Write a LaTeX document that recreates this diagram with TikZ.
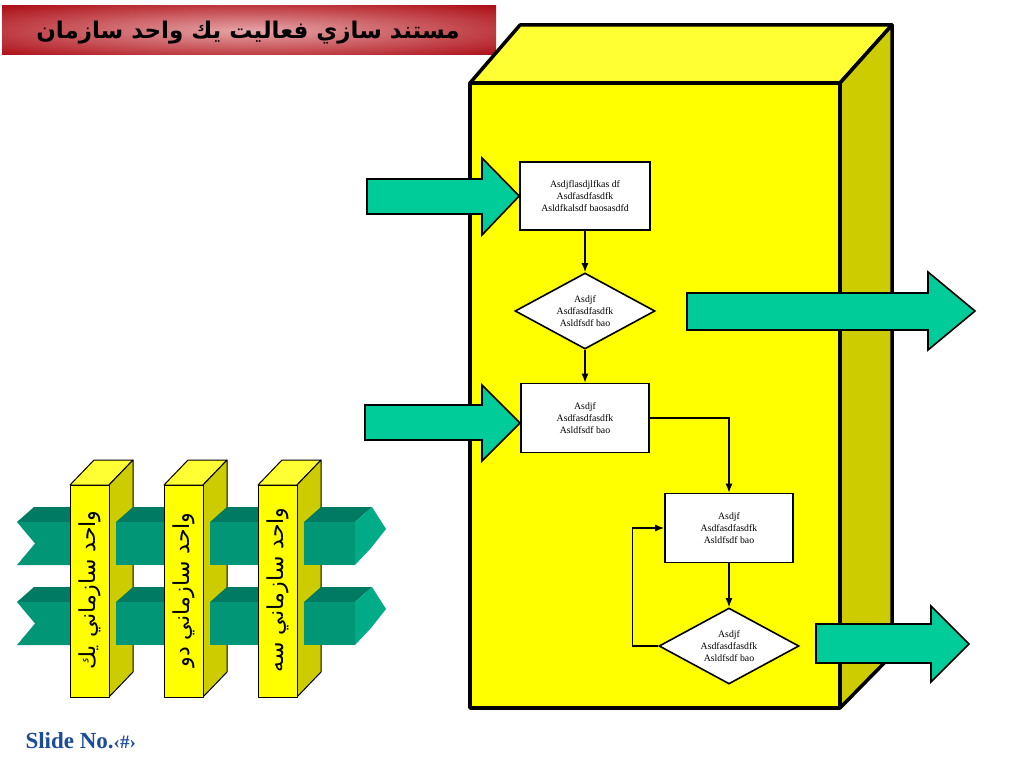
\documentclass[tikz,border=0pt]{standalone}
\usepackage{fontspec}
\setmainfont{Liberation Serif}
\newfontfamily\arabicfont[Script=Arabic]{DejaVu Sans}
\TeXXeTstate=1
\usetikzlibrary{shapes.geometric,arrows.meta}
\definecolor{boxfront}{RGB}{255,255,0}
\definecolor{boxtop}{RGB}{255,255,51}
\definecolor{boxside}{RGB}{204,204,0}
\definecolor{flow}{RGB}{0,204,153}
\definecolor{bartop}{RGB}{0,122,98}
\definecolor{barfront}{RGB}{0,150,118}
\definecolor{barend}{RGB}{0,172,136}
\definecolor{banner}{RGB}{172,12,20}
\definecolor{bannerlight}{RGB}{230,165,168}
\definecolor{slideblue}{RGB}{26,76,154}
\pgfdeclareradialshading{bannerglow}{\pgfpoint{0bp}{0bp}}{color(0bp)=(bannerlight); color(36bp)=(banner); color(50bp)=(banner)}
\tikzset{
  box/.style={draw,line width=1.6pt,fill=white,rectangle,minimum width=128pt,
    minimum height=69pt,inner sep=0pt,align=center,font=\fontsize{9.8}{12}\selectfont},
  decision/.style={draw,line width=1.6pt,fill=white,diamond,shape aspect=1.84,
    minimum width=140pt,minimum height=76pt,inner sep=0pt,align=center,
    font=\fontsize{9.8}{12}\selectfont},
  link/.style={line width=1.4pt,-{Latex[length=9pt,width=7pt]}},
  bigarrow/.style={draw,line width=1.6pt,line join=miter,fill=flow},
  solid/.style={draw,line width=3.5pt,line join=round},
  face/.style={draw,line width=1pt,line join=round},
  unit/.style={rotate=90,font=\arabicfont\fontsize{22}{22}\selectfont}
}
\begin{document}
\begin{tikzpicture}[x=1pt,y=-1pt]
  \useasboundingbox (0,0) rectangle (1024,768);
  % title
  \shade[shading=bannerglow] (2,6) rectangle (496,55);
  \node (t) at (248,33) {\arabicfont\bfseries\fontsize{23}{23}\selectfont\beginR مستند سازي فعاليت يك واحد سازمان\endR};
  % the big box
  \filldraw[solid,fill=boxtop] (470,83) -- (520,25) -- (892,25) -- (840,83) -- cycle;
  \filldraw[solid,fill=boxside] (840,83) -- (892,25) -- (892,655) -- (840,708) -- cycle;
  \filldraw[solid,fill=boxfront] (470,83) rectangle (840,708);
  % flow chart
  \node[box,minimum width=130pt,minimum height=68pt] (1) at (585,196)
    {Asdjflasdjlfkas df\\Asdfasdfasdfk\\Asldfkalsdf baosasdfd};
  \node[decision] (2) at (585,311) {Asdjf\\Asdfasdfasdfk\\Asldfsdf bao};
  \node[box] (3) at (585,418) {Asdjf\\Asdfasdfasdfk\\Asldfsdf bao};
  \node[box] (4) at (729,528) {Asdjf\\Asdfasdfasdfk\\Asldfsdf bao};
  \node[decision] (5) at (729,646) {Asdjf\\Asdfasdfasdfk\\Asldfsdf bao};
  \draw[link] (1) -- (2);
  \draw[link] (2) -- (3);
  \draw[link] (3.east) -| (4.north);
  \draw[link] (4) -- (5);
  \draw[link] (5.west) -- ++(-26,0) |- (4.west);
  % in and out
  \draw[bigarrow] (367,179) -- (482,179) -- (482,158) -- (1.west) -- (482,235) -- (482,214) -- (367,214) -- cycle;
  \draw[bigarrow] (365,405) -- (482,405) -- (482,385) -- (520,423) -- (482,461) -- (482,440) -- (365,440) -- cycle;
  \draw[bigarrow] (687,293) -- (928,293) -- (928,272) -- (975,311) -- (928,350) -- (928,330) -- (687,330) -- cycle;
  \draw[bigarrow] (816,624) -- (931,624) -- (931,606) -- (969,644) -- (931,682) -- (931,663) -- (816,663) -- cycle;
  % bars, left ends
  \fill[bartop] (17,522) -- (34,507) -- (97,507) -- (80,522) -- cycle;
  \fill[barfront] (17,522) -- (80,522) -- (80,565) -- (17,565) -- (35,543.5) -- cycle;
  \fill[bartop] (17,602) -- (34,587) -- (97,587) -- (80,602) -- cycle;
  \fill[barfront] (17,602) -- (80,602) -- (80,645) -- (17,645) -- (35,623.5) -- cycle;
  % unit one
  \filldraw[face,fill=boxtop] (70,485) -- (94,460) -- (133,460) -- (109,485) -- cycle;
  \filldraw[face,fill=boxside] (109,485) -- (133,460) -- (133,672) -- (109,697) -- cycle;
  \filldraw[face,fill=boxfront] (70,485) rectangle (109,697);
  \node[unit] (u1) at (89.5,590) {\beginR واحد سازماني يك\endR};
  \fill[bartop] (116,522) -- (133,507) -- (192,507) -- (175,522) -- cycle;
  \fill[barfront] (116,522) rectangle (175,565);
  \fill[bartop] (116,602) -- (133,587) -- (192,587) -- (175,602) -- cycle;
  \fill[barfront] (116,602) rectangle (175,645);
  % unit two
  \filldraw[face,fill=boxtop] (164,485) -- (188,460) -- (227,460) -- (203,485) -- cycle;
  \filldraw[face,fill=boxside] (203,485) -- (227,460) -- (227,672) -- (203,697) -- cycle;
  \filldraw[face,fill=boxfront] (164,485) rectangle (203,697);
  \node[unit] (u2) at (183.5,590) {\beginR واحد سازماني دو\endR};
  \fill[bartop] (210,522) -- (227,507) -- (287,507) -- (270,522) -- cycle;
  \fill[barfront] (210,522) rectangle (270,565);
  \fill[bartop] (210,602) -- (227,587) -- (287,587) -- (270,602) -- cycle;
  \fill[barfront] (210,602) rectangle (270,645);
  % unit three
  \filldraw[face,fill=boxtop] (258,485) -- (282,460) -- (321,460) -- (297,485) -- cycle;
  \filldraw[face,fill=boxside] (297,485) -- (321,460) -- (321,672) -- (297,697) -- cycle;
  \filldraw[face,fill=boxfront] (258,485) rectangle (297,697);
  \node[unit] (u3) at (277.5,590) {\beginR واحد سازماني سه\endR};
  % bars, right ends
  \fill[bartop] (304,522) -- (321,507) -- (372,507) -- (355,522) -- cycle;
  \fill[barfront] (304,522) rectangle (355,565);
  \fill[barend] (355,522) -- (372,507) -- (386,529) -- (371,548) -- (355,565) -- cycle;
  \fill[bartop] (304,602) -- (321,587) -- (372,587) -- (355,602) -- cycle;
  \fill[barfront] (304,602) rectangle (355,645);
  \fill[barend] (355,602) -- (372,587) -- (386,609) -- (371,628) -- (355,645) -- cycle;
  % footer
  \node[anchor=west,text=slideblue,font=\bfseries\fontsize{23}{23}\selectfont] (s) at (22,741)
    {Slide No.{\fontsize{19}{19}\selectfont‹\#›}};
\end{tikzpicture}
\end{document}
